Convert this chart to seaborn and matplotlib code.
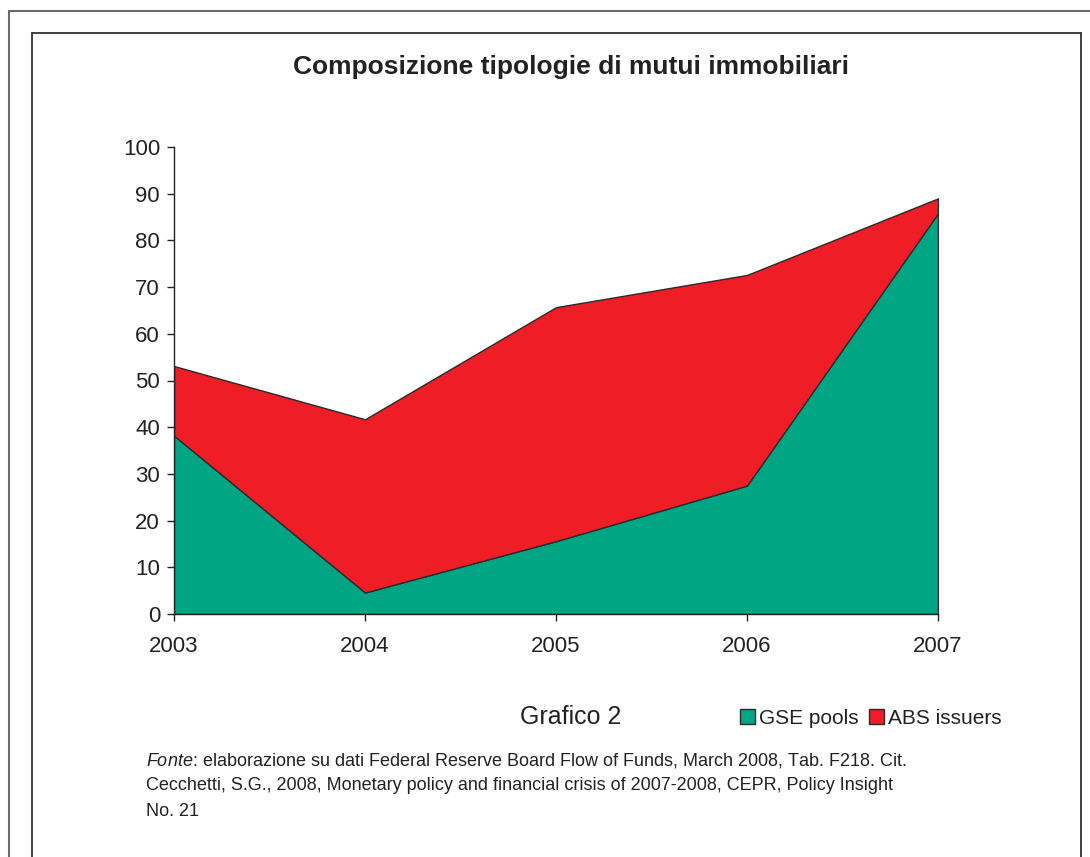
import matplotlib
matplotlib.use("Agg")
import matplotlib.pyplot as plt
from matplotlib.lines import Line2D
import seaborn as sns
import pandas as pd

years = [2003, 2004, 2005, 2006, 2007]
gse_pools = [38.2, 4.6, 15.6, 27.5, 85.8]
abs_issuers = [14.9, 37.1, 50.1, 45.1, 3.2]
series_names = ["GSE pools", "ABS issuers"]
y_ticks = list(range(0, 101, 10))

sns.set_theme(style="ticks")
plt.rcParams["font.family"] = ["Liberation Sans", "DejaVu Sans"]
plt.rcParams["mathtext.fontset"] = "custom"
plt.rcParams["mathtext.it"] = "Liberation Sans:italic"
plt.rcParams["mathtext.rm"] = "Liberation Sans"

df = pd.DataFrame({"anno": years, series_names[0]: gse_pools, series_names[1]: abs_issuers})

W, H = 1090, 857
fig = plt.figure(figsize=(W / 100, H / 100), dpi=100)
ax = fig.add_axes([174 / W, 1 - 614 / H, (938 - 174) / W, (614 - 147) / H])

polys = ax.stackplot(df["anno"], df[series_names[0]], df[series_names[1]],
                     colors=["#00A584", "#EE1D26"], edgecolor="#2b2b2b", linewidth=1.0,
                     labels=series_names)

ax.set_xlim(years[0], years[-1])
ax.set_ylim(0, 100)
ax.set_xticks(years)
ax.set_yticks(y_ticks)
ax.tick_params(axis="both", labelsize=16, colors="#222222", length=5, width=1, direction="out")
ax.tick_params(axis="x", pad=11)
ax.tick_params(axis="y", pad=5)
sns.despine(ax=ax)
for s in ["left", "bottom"]:
    ax.spines[s].set_color("#222222")
    ax.spines[s].set_linewidth(1)
ax.set_facecolor("white")

# cornici della pagina
def line(x, y, c, lw):
    fig.add_artist(Line2D([v / W for v in x], [1 - v / H for v in y], color=c, lw=lw,
                          transform=fig.transFigure))

line([9, W], [11, 11], "#6b6b6b", 1.5)
line([9, 9], [11, H], "#6b6b6b", 1.5)
line([32, 1081], [33, 33], "#333333", 1.3)
line([32, 32], [33, H], "#333333", 1.3)
line([1081, 1081], [33, H], "#333333", 1.3)

fig.text(571 / W, 1 - 67 / H, "Composizione tipologie di mutui immobiliari",
         ha="center", va="center", fontsize=19, fontweight="bold", color="#222222")

fig.text(520 / W, 1 - 717 / H, "Grafico 2", ha="left", va="center", fontsize=18, color="#222222")

fig.legend(handles=polys, labels=series_names, loc="center left",
           bbox_to_anchor=(730 / W, 1 - 718 / H), ncol=2, frameon=False,
           fontsize=15, handlelength=0.7, handleheight=0.7, handletextpad=0.2,
           columnspacing=0.5, borderpad=0, labelcolor="#222222")

footer = [r"$\it{Fonte}$: elaborazione su dati Federal Reserve Board Flow of Funds, March 2008, Tab. F218. Cit.",
          "Cecchetti, S.G., 2008, Monetary policy and financial crisis of 2007-2008, CEPR, Policy Insight",
          "No. 21"]
for i, t in enumerate(footer):
    fig.text(146 / W, 1 - (761 + 25 * i) / H, t, ha="left", va="center", fontsize=13, color="#222222")

fig.savefig("out.png", dpi=100, facecolor="white")
